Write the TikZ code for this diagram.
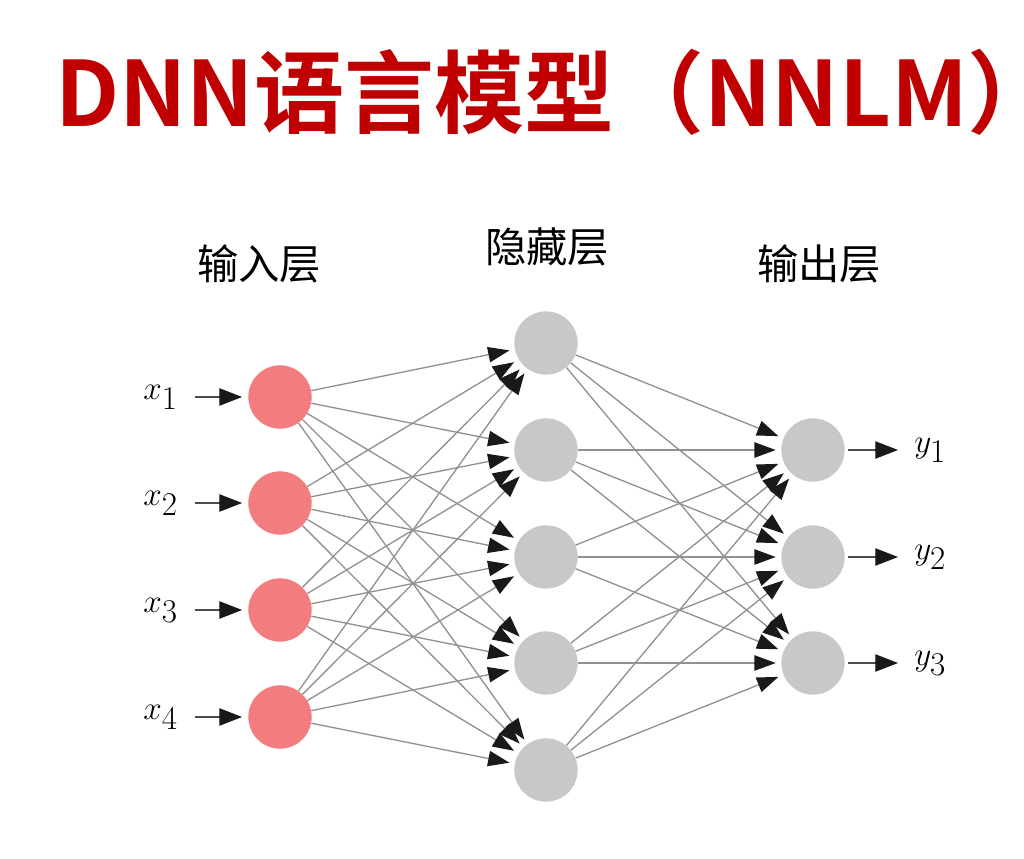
\documentclass[tikz,border=0pt]{standalone}
\usepackage{amsmath}
\usepackage{xcolor}
\usepackage{fontspec}
\newfontfamily\cjk{Noto Sans CJK SC}[BoldFont={Noto Sans CJK SC Bold}]
\usetikzlibrary{positioning, arrows.meta}

\definecolor{titlered}{RGB}{192,0,0}
\definecolor{inred}{RGB}{242,124,126}
\definecolor{nodegray}{RGB}{200,200,202}
\definecolor{linegray}{RGB}{145,145,145}

\begin{document}
\begin{tikzpicture}[x=0.75pt,y=0.75pt,yscale=-1,xscale=1,
  inneuron/.style={circle,fill=inred,minimum size=47.5pt,inner sep=0pt},
  hidneuron/.style={circle,fill=nodegray,minimum size=47.5pt,inner sep=0pt},
  conn/.style={draw=linegray,line width=1pt,shorten >=4pt,
    -{Triangle[length=16pt,width=11.5pt,color=black!90]}},
  ioarrow/.style={draw=black!70,line width=0.8pt,
    -{Triangle[length=17pt,width=13pt,color=black!90]}},
  mathlabel/.style={inner sep=0pt,font=\fontsize{33pt}{35pt}\selectfont},
  layerlabel/.style={font=\cjk\fontsize{31pt}{33pt}\selectfont,inner sep=0pt}]
\useasboundingbox (0,0) rectangle (1024,859);

% Title
\node [anchor=west,inner sep=0pt,text=titlered,font=\cjk\bfseries\fontsize{67.5pt}{70pt}\selectfont] (title) at (55,92) {DNN语言模型（NNLM）\kern-0.5em};

% Layer labels
\node [layerlabel] (inlabel) at (259,264) {输入层};
\node [layerlabel] (hidlabel) at (547,247) {隐藏层};
\node [layerlabel] (outlabel) at (819,264) {输出层};

% Input layer
\node [inneuron] (in1) at (280,397) {};
\node [inneuron] (in2) at (280,503) {};
\node [inneuron] (in3) at (280,610) {};
\node [inneuron] (in4) at (280,717) {};

% Hidden layer
\node [hidneuron] (hid1) at (546,343) {};
\node [hidneuron] (hid2) at (546,450) {};
\node [hidneuron] (hid3) at (546,557) {};
\node [hidneuron] (hid4) at (546,663) {};
\node [hidneuron] (hid5) at (546,770) {};

% Output layer
\node [hidneuron] (out1) at (813,450) {};
\node [hidneuron] (out2) at (813,557) {};
\node [hidneuron] (out3) at (813,663) {};

% Input labels
\node [mathlabel,anchor=east] (x1) at (178,397) {$x_1$};
\node [mathlabel,anchor=east] (x2) at (178,503) {$x_2$};
\node [mathlabel,anchor=east] (x3) at (178,610) {$x_3$};
\node [mathlabel,anchor=east] (x4) at (178,717) {$x_4$};

% Output labels
\node [mathlabel,anchor=west] (y1) at (914,450) {$y_1$};
\node [mathlabel,anchor=west] (y2) at (914,557) {$y_2$};
\node [mathlabel,anchor=west] (y3) at (914,663) {$y_3$};

% Input arrows
\draw [ioarrow,shorten <=12.5pt,shorten >=4.5pt] (x1) -- (in1);
\draw [ioarrow,shorten <=12.5pt,shorten >=4.5pt] (x2) -- (in2);
\draw [ioarrow,shorten <=12.5pt,shorten >=4.5pt] (x3) -- (in3);
\draw [ioarrow,shorten <=12.5pt,shorten >=4.5pt] (x4) -- (in4);

% Output arrows
\draw [ioarrow,shorten <=2pt,shorten >=12pt] (out1) -- (y1);
\draw [ioarrow,shorten <=2pt,shorten >=12pt] (out2) -- (y2);
\draw [ioarrow,shorten <=2pt,shorten >=12pt] (out3) -- (y3);

% Input to hidden
\draw [conn] (in1) -- (hid1);
\draw [conn] (in1) -- (hid2);
\draw [conn] (in1) -- (hid3);
\draw [conn] (in1) -- (hid4);
\draw [conn] (in1) -- (hid5);
\draw [conn] (in2) -- (hid1);
\draw [conn] (in2) -- (hid2);
\draw [conn] (in2) -- (hid3);
\draw [conn] (in2) -- (hid4);
\draw [conn] (in2) -- (hid5);
\draw [conn] (in3) -- (hid1);
\draw [conn] (in3) -- (hid2);
\draw [conn] (in3) -- (hid3);
\draw [conn] (in3) -- (hid4);
\draw [conn] (in3) -- (hid5);
\draw [conn] (in4) -- (hid1);
\draw [conn] (in4) -- (hid2);
\draw [conn] (in4) -- (hid3);
\draw [conn] (in4) -- (hid4);
\draw [conn] (in4) -- (hid5);

% Hidden to output
\draw [conn] (hid1) -- (out1);
\draw [conn] (hid1) -- (out2);
\draw [conn] (hid1) -- (out3);
\draw [conn] (hid2) -- (out1);
\draw [conn] (hid2) -- (out2);
\draw [conn] (hid2) -- (out3);
\draw [conn] (hid3) -- (out1);
\draw [conn] (hid3) -- (out2);
\draw [conn] (hid3) -- (out3);
\draw [conn] (hid4) -- (out1);
\draw [conn] (hid4) -- (out2);
\draw [conn] (hid4) -- (out3);
\draw [conn] (hid5) -- (out1);
\draw [conn] (hid5) -- (out2);
\draw [conn] (hid5) -- (out3);

\end{tikzpicture}
\end{document}
